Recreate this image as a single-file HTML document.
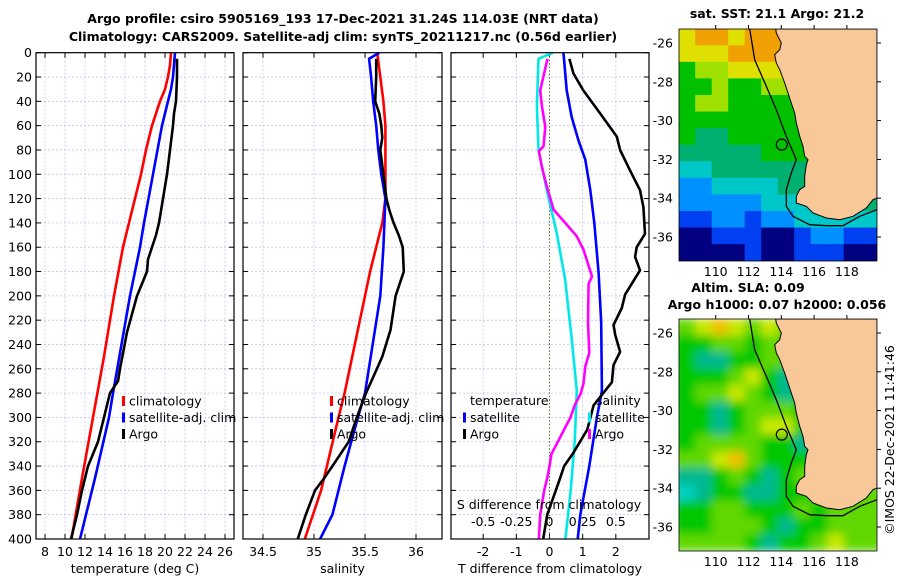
<!DOCTYPE html>
<html><head><meta charset="utf-8"><style>
html,body{margin:0;padding:0;background:#fff;}
svg{display:block;font-family:"DejaVu Sans","Liberation Sans",sans-serif;}
</style></head><body>
<svg id="fig" width="900" height="580" viewBox="0 0 900 580" xmlns="http://www.w3.org/2000/svg">
<text x="343" y="23" text-anchor="middle" font-size="12.5" font-weight="bold">Argo profile: csiro 5905169_193 17-Dec-2021 31.24S 114.03E (NRT data)</text>
<text x="343" y="41" text-anchor="middle" font-size="12.5" font-weight="bold">Climatology: CARS2009. Satellite-adj clim: synTS_20211217.nc (0.56d earlier)</text>
<text x="777" y="18" text-anchor="middle" font-size="12.5" font-weight="bold">sat. SST: 21.1 Argo: 21.2</text>
<text x="748" y="292" text-anchor="middle" font-size="12.5" font-weight="bold">Altim. SLA: 0.09</text>
<text x="777" y="309" text-anchor="middle" font-size="12.5" font-weight="bold">Argo h1000: 0.07 h2000: 0.056</text>
<text transform="translate(894,440) rotate(-90)" text-anchor="middle" font-size="12.5">©IMOS 22-Dec-2021 11:41:46</text>
<g id="charts"></g>
</svg>
<script>
// ---------- data ----------
const depthTicks=[0,20,40,60,80,100,120,140,160,180,200,220,240,260,280,300,320,340,360,380,400];
const tempTicks=[8,10,12,14,16,18,20,22,24,26];
const salTicks=[34.5,35,35.5,36];
const tdiffTicks=[-2,-1,0,1,2];
const sdiffTicks=[-0.5,-0.25,0,0.25,0.5];
const sdiffTickLabels=["-0.5","-0.25","0","0.25","0.5"];

const tClimDepth=[0,10,20,30,40,60,80,100,120,160,200,250,300,350,400];
const tClimVal=[20.6,20.5,20.3,20.0,19.5,18.7,18.1,17.6,17.0,15.8,14.9,13.9,12.8,11.7,10.65];
const tSatDepth=[0,20,30,40,60,100,140,160,200,280,300,350,400];
const tSatVal=[21.0,20.8,20.6,20.3,19.7,18.8,17.9,17.5,16.5,14.8,14.4,13.0,11.5];
const tArgoDepth=[5,20,40,50,60,80,100,120,140,150,160,170,180,190,200,230,260,270,280,300,320,340,360,380,400];
const tArgoVal=[21.2,21.2,21.1,20.9,20.8,20.5,20.2,19.8,19.4,19.1,18.7,18.3,18.2,17.7,17.2,16.2,15.5,15.3,14.5,13.9,13.3,12.3,11.7,11.2,10.6];

const sClimDepth=[0,20,40,60,100,120,140,160,180,200,280,300,360,400];
const sClimVal=[35.62,35.65,35.68,35.70,35.70,35.70,35.67,35.61,35.55,35.50,35.30,35.24,35.07,34.91];
const sSatDepth=[0,5,20,40,60,80,100,120,140,160,200,280,300,340,380,400];
const sSatVal=[35.64,35.54,35.56,35.58,35.61,35.63,35.66,35.70,35.69,35.68,35.65,35.50,35.43,35.30,35.18,35.06];
const sArgoDepth=[5,20,40,50,60,70,80,100,120,130,140,150,160,180,190,200,228,250,265,280,300,320,340,350,360,380,400];
const sArgoVal=[35.61,35.61,35.60,35.64,35.66,35.67,35.65,35.68,35.71,35.74,35.78,35.83,35.87,35.88,35.84,35.80,35.75,35.67,35.59,35.51,35.42,35.34,35.18,35.10,35.01,34.92,34.84];

const tdSatDepth=[0,6,31,53,72,88,113,140,181,222,278,300,340,380,400];
const tdSatVal=[0.42,0.44,0.52,0.67,0.87,1.08,1.23,1.35,1.48,1.56,1.58,1.43,1.20,0.93,0.85];
const tdArgoDepth=[5,17,31,50,69,80,97,113,127,149,160,168,179,190,199,210,224,232,246,257,271,290,310,330,340,350,360,370,380,400];
const tdArgoVal=[0.6,0.72,1.02,1.53,2.03,2.13,2.43,2.73,2.83,2.88,2.63,2.58,2.73,2.48,2.28,2.18,1.93,1.98,2.13,1.93,1.88,1.33,1.14,0.70,0.44,0.32,0.19,0.06,-0.07,-0.19];
const sdSatDepth=[0,5,44,80,113,149,187,236,278,320,360,400];
const sdSatVal=[0.025,-0.083,-0.095,-0.083,-0.02,0.056,0.118,0.168,0.206,0.19,0.16,0.12];
const sdArgoDepth=[5,31,44,61,77,81,94,110,129,140,151,162,170,184,190,222,247,258,272,280,290,300,310,320,330,340,350,360,380,400];
const sdArgoVal=[-0.015,-0.07,-0.057,-0.032,-0.045,-0.08,-0.057,-0.02,0.03,0.118,0.206,0.256,0.28,0.32,0.295,0.29,0.30,0.27,0.256,0.237,0.19,0.158,0.11,0.063,0.015,0,-0.017,-0.04,-0.07,-0.08];

const sstGrid=["788788889999","777888877777","566777777777","556556667777","566555566777","555555556666","544555555555","444445555555","334444445555","223333444555","222223334444","112212233333","001110012211","000010011100"];
const slaGrid=["678767666666","556656666666","544556656666","555675456666","566765455666","554566655777","554567755777","566665545777","667865555677","445654565666","345544556666","556655565666","556665455666","666654556766"];
const sstColors=["#000080","#0040f0","#0090ff","#00c8c8","#00b070","#00c000","#a0e000","#e0e000","#f0a000","#d04000"];
const slaColors=["#00e0e0","#00d0d0","#00d8d0","#00d0c0","#00b890","#00c800","#60d800","#c8e800","#f0c000","#f0a000"];
const mapLonTicks=[110,112,114,116,118];
const mapLatTicks=[-26,-28,-30,-32,-34,-36];
const argoLon=114.03, argoLat=-31.24;

// ---------- drawing ----------
const NS="http://www.w3.org/2000/svg";
const root=document.getElementById('charts');
function mk(tag,attrs,parent){const e=document.createElementNS(NS,tag);for(const k in attrs)e.setAttribute(k,attrs[k]);(parent||root).appendChild(e);return e;}
const yTop=52.7,yBot=539;
const yS=d=>yTop+(d-0)*(yBot-yTop)/400;
const FS=12.5;

function panel(name,x0,x1,vmin,vmax,ticks,labels,gridVals,xtitle,showY){
  const g=mk('g',{});
  
  
  const xs=v=>x0+(v-vmin)*(x1-x0)/(vmax-vmin);
  depthTicks.forEach(d=>{ if(d>0&&d<400){const l=mk('line',{x1:x0,x2:x1,y1:yS(d),y2:yS(d),stroke:'#c0c0f0','stroke-width':0.8,'stroke-dasharray':'2,2'},g);
    }
    mk('line',{x1:x0,x2:x0+5,y1:yS(d),y2:yS(d),stroke:'#000'},g);
    mk('line',{x1:x1-5,x2:x1,y1:yS(d),y2:yS(d),stroke:'#000'},g);
    if(showY){const t=mk('text',{x:32,y:yS(d)+4.5,'text-anchor':'end','font-size':FS},g);t.textContent=d;
      }
  });
  gridVals.forEach(v=>{const l=mk('line',{x1:xs(v),x2:xs(v),y1:yTop,y2:yBot,stroke:'#c0c0f0','stroke-width':0.8,'stroke-dasharray':'2,2'},g);
    });
  ticks.forEach((v,i)=>{
    mk('line',{x1:xs(v),x2:xs(v),y1:yBot,y2:yBot-5,stroke:'#000'},g);
    mk('line',{x1:xs(v),x2:xs(v),y1:yTop,y2:yTop+5,stroke:'#000'},g);
    const t=mk('text',{x:xs(v),y:556,'text-anchor':'middle','font-size':FS},g);t.textContent=labels[i];
    
  });
  const tt=mk('text',{x:(x0+x1)/2,y:573,'text-anchor':'middle','font-size':FS},g);tt.textContent=xtitle;
  
  return {g,xs};
}
function line(p,ds,vs,color,name){
  const pts=ds.map((d,i)=>p.xs(vs[i]).toFixed(1)+','+yS(d).toFixed(1)).join(' ');
  const l=mk('polyline',{points:pts,fill:'none',stroke:color,'stroke-width':2.6,'stroke-linejoin':'round'},p.g);
  
  
}
function frame(p,x0,x1){mk('rect',{x:x0,y:yTop,width:x1-x0,height:yBot-yTop,fill:'none',stroke:'#000','stroke-width':1.2},p.g);}
function legItem(g,x,y,color,text){
  mk('rect',{x:x,y:y-5,width:3,height:10,fill:color},g);
  const t=mk('text',{x:x+7,y:y+4.5,'font-size':FS},g);t.textContent=text;
  
}

// panel 1
const p1=panel('temperature-panel',36,234,7.1,26.9,tempTicks,tempTicks.map(String),tempTicks,'temperature (deg C)',true);
line(p1,tClimDepth,tClimVal,'#ff0000','temp-climatology-line');
line(p1,tSatDepth,tSatVal,'#0000ff','temp-satellite-line');
line(p1,tArgoDepth,tArgoVal,'#000000','temp-argo-line');
legItem(p1.g,122,401,'#ff0000','climatology');legItem(p1.g,122,417.5,'#0000ff','satellite-adj. clim');legItem(p1.g,122,434,'#000','Argo');
frame(p1,36,234);

// panel 2
const p2=panel('salinity-panel',243,442,34.304,36.255,salTicks,["34.5","35","35.5","36"],salTicks,'salinity',false);
line(p2,sClimDepth,sClimVal,'#ff0000','sal-climatology-line');
line(p2,sSatDepth,sSatVal,'#0000ff','sal-satellite-line');
line(p2,sArgoDepth,sArgoVal,'#000000','sal-argo-line');
legItem(p2.g,330,401,'#ff0000','climatology');legItem(p2.g,330,417.5,'#0000ff','satellite-adj. clim');legItem(p2.g,330,434,'#000','Argo');
frame(p2,243,442);

// panel 3
const x30=451,x31=649;
const p3=panel('difference-panel',x30,x31,-2.97,3.0,tdiffTicks,tdiffTicks.map(String),[-2,-1,1,2],'T difference from climatology',false);
const zl=mk('line',{x1:p3.xs(0),x2:p3.xs(0),y1:yTop,y2:yBot,stroke:'#606030','stroke-width':1,'stroke-dasharray':'1.5,2'},p3.g);

const p3s={g:p3.g,xs:v=>p3.xs(v*4)};
line(p3s,sdSatDepth,sdSatVal,'#00e8e8','sdiff-satellite-line');
line(p3s,sdArgoDepth,sdArgoVal,'#ff00ff','sdiff-argo-line');
line(p3,tdSatDepth,tdSatVal,'#0000ff','tdiff-satellite-line');
line(p3,tdArgoDepth,tdArgoVal,'#000000','tdiff-argo-line');
{const t=mk('text',{x:470,y:405,'font-size':FS},p3.g);t.textContent='temperature';
 const s=mk('text',{x:596,y:405,'font-size':FS},p3.g);s.textContent='salinity';}
legItem(p3.g,463,417.5,'#0000ff','satellite');legItem(p3.g,463,434,'#000','Argo');
legItem(p3.g,588,417.5,'#00e8e8','satellite');legItem(p3.g,588,434,'#ff00ff','Argo');
{const t=mk('text',{x:549,y:509,'text-anchor':'middle','font-size':FS},p3.g);t.textContent='S difference from climatology';
 }
sdiffTicks.forEach((v,i)=>{const t=mk('text',{x:p3s.xs(v),y:526,'text-anchor':'middle','font-size':FS},p3.g);t.textContent=sdiffTickLabels[i];
 });
frame(p3,x30,x31);

// ---------- maps ----------
const MW=198,MH=232;
const land="96.7,0 97.3,4 102.3,14 100.7,20.7 95.7,25.7 97.3,34 100.7,40.7 105.7,54 109,64 112.3,74 115.7,84 117.3,94 120.7,107.3 124,117.3 125.7,127.3 129,130.7 127.3,135.7 125.7,147.3 125.7,157.3 120.7,160.7 117.3,167.3 117.3,174 127.3,177.3 134,184 147.3,189 160.7,190.7 174,187.3 187.3,179 194,170.7 198,169 198,0";
const contour="70.7,0 75.7,30.7 87.3,57.3 97.3,80.7 107.3,107.3 117.3,130.7 112.3,144 107.3,160.7 107.3,177.3 114,187.3 130.7,195.7 147.3,196.7 164,196.7 180.7,187.3 198,180.7";
const lonX=lon=>36.7+(lon-110)*16.4;
const latY=lat=>14+(-26-lat)*19.4;
function map(name,ox,oy,grid,colors,blur){
  const g=mk('g',{transform:`translate(${ox},${oy})`});
  
  
  const cid=name+'-clip';
  const cp=mk('clipPath',{id:cid},g);mk('rect',{x:0,y:0,width:MW,height:MH},cp);
  const cg=mk('g',{'clip-path':`url(#${cid})`},g);
  const inner=mk('g',blur?{filter:'url(#blr)'}:{},cg);
  const rows=grid.length,cols=grid[0].length,cw=MW/cols,ch=MH/rows;
  grid.forEach((r,i)=>{for(let j=0;j<cols;j++){
    const c=mk('rect',{x:j*cw-0.3-(blur?6:0)*(j==0),y:i*ch-0.3,width:cw+0.6+(blur?6:0)*(j==0||j==cols-1),height:ch+0.6,fill:colors[+r[j]]},inner);
    }});
  const ld=mk('polygon',{points:land,fill:'#f8c898',stroke:'#000','stroke-width':1},cg);
  
  const ct=mk('polyline',{points:contour,fill:'none',stroke:'#000','stroke-width':1.3},cg);
  
  const ac=mk('circle',{cx:lonX(argoLon),cy:latY(argoLat),r:5.5,fill:'none',stroke:'#000','stroke-width':1.2},g);
  
  mk('rect',{x:0,y:0,width:MW,height:MH,fill:'none',stroke:'#000','stroke-width':0.8},g);
  mapLonTicks.forEach(v=>{const t=mk('text',{x:lonX(v),y:MH+15,'text-anchor':'middle','font-size':FS},g);t.textContent=v;
    
    mk('line',{x1:lonX(v),x2:lonX(v),y1:0,y2:-4,stroke:'#000'},g);});
  mapLatTicks.forEach(v=>{const t=mk('text',{x:-6,y:latY(v)+4.5,'text-anchor':'end','font-size':FS},g);t.textContent=v;
    
    mk('line',{x1:MW,x2:MW+4,y1:latY(v),y2:latY(v),stroke:'#000'},g);});
}
const defs=mk('defs',{});const f=mk('filter',{id:'blr',x:'-10%',y:'-10%',width:'120%',height:'120%'},defs);
mk('feGaussianBlur',{stdDeviation:4.5},f);
map('sst-map',679,29,sstGrid,sstColors,false);
map('sla-map',679,319,slaGrid,slaColors,true);
</script>
</body></html>
